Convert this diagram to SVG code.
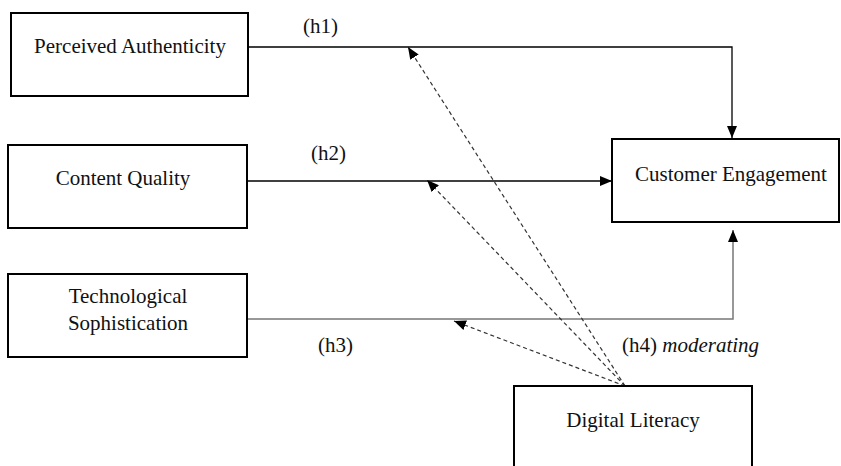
<svg xmlns="http://www.w3.org/2000/svg" width="841" height="466" viewBox="0 0 841 466">
<defs>
<style>
.box{fill:#fff;stroke:#000;stroke-width:2}
.t{font-family:"Liberation Serif","Times New Roman",serif;font-size:21px;fill:#111;text-anchor:middle}
.lab{font-family:"Liberation Serif","Times New Roman",serif;font-size:21px;fill:#111}
.solid{fill:none;stroke:#000;stroke-width:1.3}
.grey{fill:none;stroke:#777;stroke-width:1.5}
.dash{fill:none;stroke:#333;stroke-width:1.2;stroke-dasharray:4 3}
</style>
<marker id="ah" viewBox="0 0 12 10" refX="12" refY="5" markerWidth="12" markerHeight="10" markerUnits="userSpaceOnUse" orient="auto">
<path d="M0,0 L12,5 L0,10 Z" fill="#000"/>
</marker>
</defs>
<rect width="841" height="466" fill="#fff"/>
<g id="connectors">
<path class="solid" d="M248,47 H732 V138" marker-end="url(#ah)"/>
<path class="solid" d="M247,181 H612" marker-end="url(#ah)"/>
<path class="grey" d="M247,319 H733 V230" marker-end="url(#ah)"/>
<path class="dash" d="M625,386 L408,47" marker-end="url(#ah)"/>
<path class="dash" d="M625,386 L427,180" marker-end="url(#ah)"/>
<path class="dash" d="M625,386 L454,321" marker-end="url(#ah)"/>
<text class="lab" x="303" y="33">(h1)</text>
<text class="lab" x="311" y="160">(h2)</text>
<text class="lab" x="318" y="352">(h3)</text>
<text class="lab" x="622" y="352">(h4) <tspan font-style="italic">moderating</tspan></text>
</g>
<g id="perceived-authenticity">
<rect class="box" x="11" y="13" width="237" height="83"/>
<text class="t" x="130" y="53">Perceived Authenticity</text>
</g>
<g id="content-quality">
<rect class="box" x="8" y="145" width="239" height="83"/>
<text class="t" x="123" y="185">Content Quality</text>
</g>
<g id="technological-sophistication">
<rect class="box" x="8" y="274" width="239" height="83"/>
<text class="t" x="128" y="303">Technological</text>
<text class="t" x="128" y="330">Sophistication</text>
</g>
<g id="customer-engagement">
<rect class="box" x="612" y="139" width="227" height="83"/>
<text class="t" x="731" y="181">Customer Engagement</text>
</g>
<g id="digital-literacy">
<rect class="box" x="514" y="386" width="238" height="90"/>
<text class="t" x="633" y="427">Digital Literacy</text>
</g>
</svg>
